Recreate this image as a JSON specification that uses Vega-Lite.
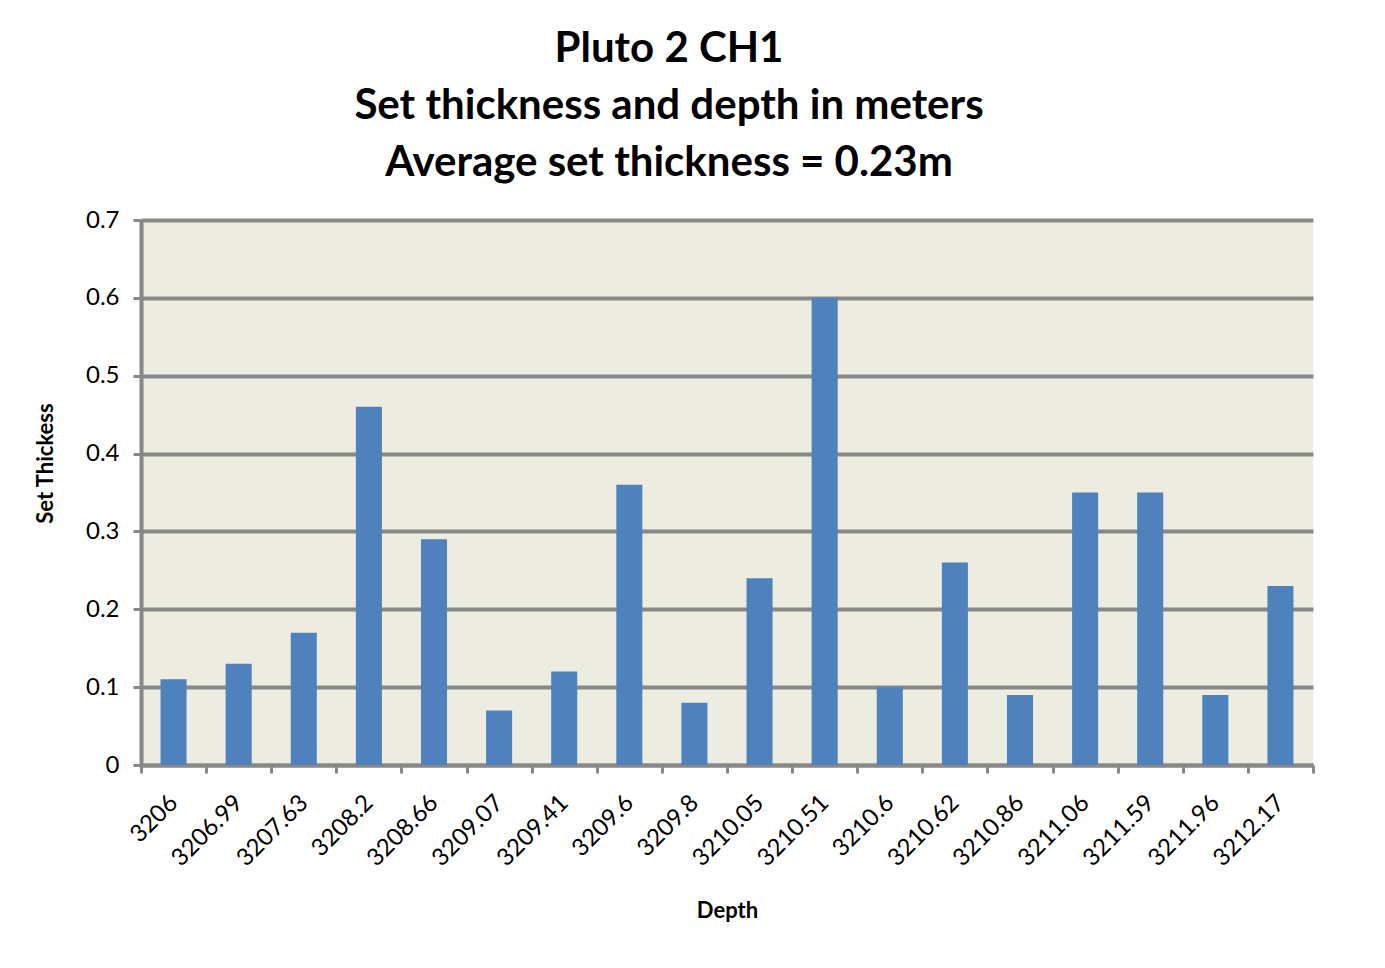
{
  "$schema": "https://vega.github.io/schema/vega-lite/v6.json",
  "width": 1172,
  "height": 545,
  "autosize": {"type": "none"},
  "padding": {"left": 141, "top": 220, "right": 72, "bottom": 203},
  "background": "white",
  "title": {
    "text": ["Pluto 2 CH1", "Set thickness and depth in meters", "Average set thickness = 0.23m"],
    "font": "Lato",
    "fontSize": 42,
    "fontWeight": "bold",
    "color": "black",
    "lineHeight": 57,
    "anchor": "middle",
    "frame": "group",
    "dx": -58,
    "offset": 23
  },
  "data": {
    "values": [
      {"Depth": "3206", "SetThickness": 0.11},
      {"Depth": "3206.99", "SetThickness": 0.13},
      {"Depth": "3207.63", "SetThickness": 0.17},
      {"Depth": "3208.2", "SetThickness": 0.46},
      {"Depth": "3208.66", "SetThickness": 0.29},
      {"Depth": "3209.07", "SetThickness": 0.07},
      {"Depth": "3209.41", "SetThickness": 0.12},
      {"Depth": "3209.6", "SetThickness": 0.36},
      {"Depth": "3209.8", "SetThickness": 0.08},
      {"Depth": "3210.05", "SetThickness": 0.24},
      {"Depth": "3210.51", "SetThickness": 0.60},
      {"Depth": "3210.6", "SetThickness": 0.10},
      {"Depth": "3210.62", "SetThickness": 0.26},
      {"Depth": "3210.86", "SetThickness": 0.09},
      {"Depth": "3211.06", "SetThickness": 0.35},
      {"Depth": "3211.59", "SetThickness": 0.35},
      {"Depth": "3211.96", "SetThickness": 0.09},
      {"Depth": "3212.17", "SetThickness": 0.23}
    ]
  },
  "mark": {"type": "bar", "color": "#4F81BD", "width": {"band": 0.4}},
  "encoding": {
    "x": {
      "field": "Depth",
      "type": "nominal",
      "sort": null,
      "scale": {"paddingInner": 0, "paddingOuter": 0},
      "axis": {
        "title": "Depth",
        "labelAngle": -45,
        "labelAlign": "right",
        "labelBaseline": "middle",
        "labelFont": "Lato",
        "labelFontSize": 24,
        "labelColor": "black",
        "labelPadding": 26,
        "titleFont": "Lato",
        "titleFontSize": 22,
        "titleFontWeight": "bold",
        "titleColor": "black",
        "titleBaseline": "middle",
        "titleY": 145,
        "tickBand": "extent",
        "tickColor": "#888888",
        "tickWidth": 3,
        "tickSize": 8,
        "domainColor": "#888888",
        "domainWidth": 4,
        "grid": false
      }
    },
    "y": {
      "field": "SetThickness",
      "type": "quantitative",
      "scale": {"domain": [0, 0.7], "nice": false},
      "axis": {
        "title": "Set Thickess",
        "values": [0, 0.1, 0.2, 0.3, 0.4, 0.5, 0.6, 0.7],
        "format": ".1~f",
        "labelFont": "Lato",
        "labelFontSize": 24,
        "labelColor": "black",
        "labelPadding": 14,
        "titleFont": "Lato",
        "titleFontSize": 22,
        "titleFontWeight": "bold",
        "titleColor": "black",
        "titleBaseline": "middle",
        "titleX": -96,
        "titleY": 243,
        "tickColor": "#888888",
        "tickWidth": 3,
        "tickSize": 8,
        "domainColor": "#888888",
        "domainWidth": 4,
        "grid": true,
        "gridColor": "#888888",
        "gridWidth": 4,
        "gridOpacity": 1
      }
    }
  },
  "config": {
    "view": {"stroke": null, "fill": "#ECECE0"}
  }
}
